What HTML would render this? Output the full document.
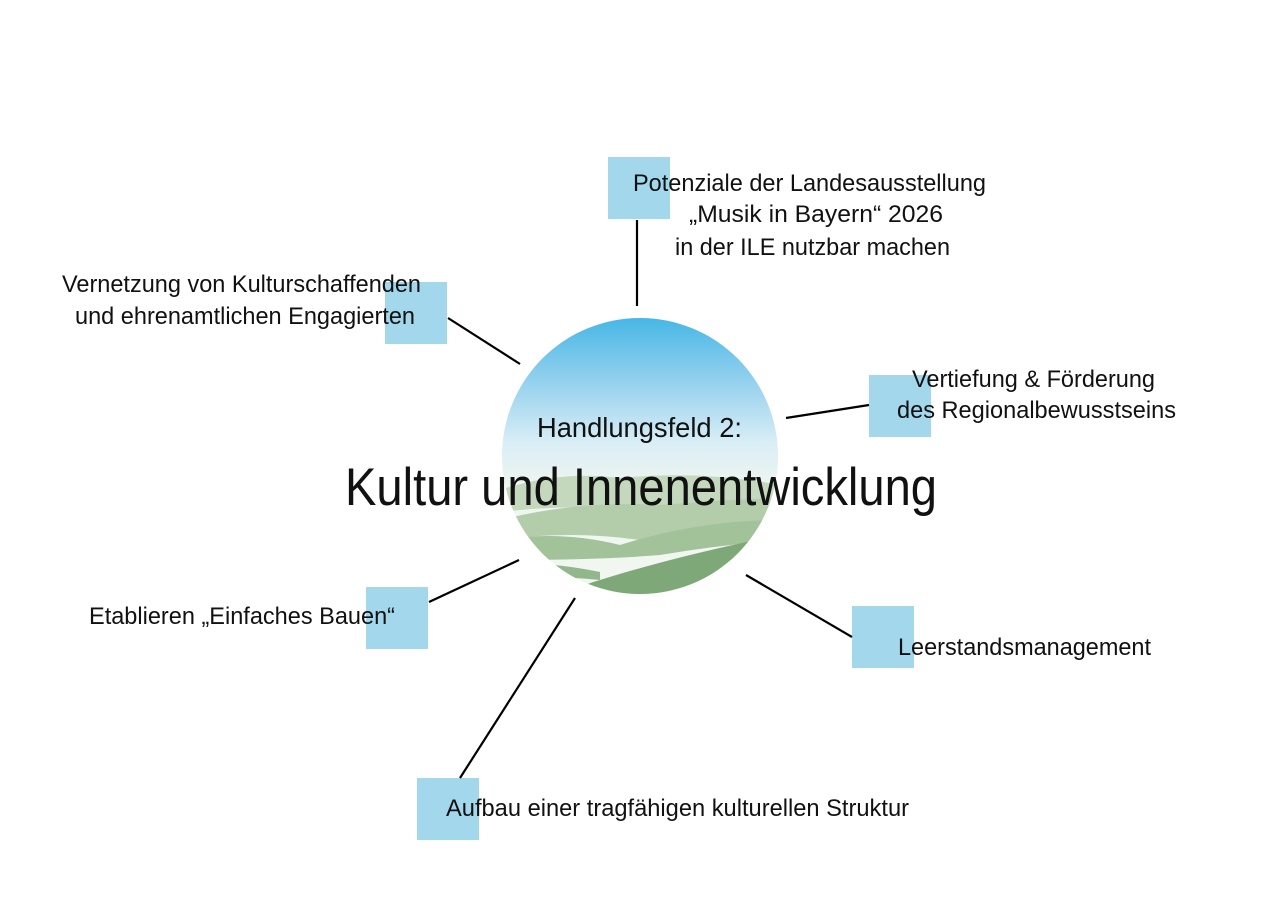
<!DOCTYPE html>
<html><head><meta charset="utf-8"><style>
html,body{margin:0;padding:0;background:#fff;}
svg{display:block;}
text{font-family:"Liberation Sans",sans-serif;fill:#111;}
</style></head><body>
<svg width="1280" height="905" viewBox="0 0 1280 905" xmlns="http://www.w3.org/2000/svg">
<defs>
<linearGradient id="sky" x1="0" y1="0" x2="0" y2="1">
<stop offset="0" stop-color="#45b6e6"/>
<stop offset="0.25" stop-color="#9ad3ee"/>
<stop offset="0.45" stop-color="#d9eef6"/>
<stop offset="0.6" stop-color="#eef5ef"/>
<stop offset="1" stop-color="#f2f6f0"/>
</linearGradient>
<clipPath id="c"><circle cx="640" cy="456" r="138"/></clipPath>
</defs>
<g clip-path="url(#c)">
<rect x="500" y="316" width="280" height="282" fill="url(#sky)"/>
<path d="M500 490 Q560 470 620 478 Q700 470 780 485 L780 510 Q700 500 620 508 Q560 505 500 512 Z" fill="#c3d8bd"/>
<path d="M500 520 Q580 500 660 505 Q720 500 780 498 L780 525 Q700 525 640 540 Q570 530 500 540Z" fill="#b3cdab"/>
<path d="M500 540 Q560 530 620 545 Q700 520 780 520 L780 540 Q720 545 660 555 Q600 560 500 560Z" fill="#a2c29a"/>
<path d="M600 580 Q680 555 780 535 L780 600 L560 600 Q580 585 600 580Z" fill="#7ea878"/>
<path d="M500 565 Q540 560 600 572 L600 580 Q550 575 500 578Z" fill="#93b78c"/>
</g>
<g fill="#a3d8ec">
<rect x="608" y="157" width="62" height="62"/>
<rect x="385" y="282" width="62" height="62"/>
<rect x="869" y="375" width="62" height="62"/>
<rect x="852" y="606" width="62" height="62"/>
<rect x="366" y="587" width="62" height="62"/>
<rect x="417" y="778" width="62" height="62"/>
</g>
<g stroke="#000" stroke-width="2.2">
<line x1="637" y1="220" x2="637" y2="306"/>
<line x1="448" y1="318" x2="520" y2="364"/>
<line x1="786" y1="418" x2="869" y2="405"/>
<line x1="746" y1="575" x2="852" y2="637"/>
<line x1="429" y1="602" x2="519" y2="560"/>
<line x1="575" y1="598" x2="460" y2="778"/>
</g>
<text x="537" y="437" font-size="28" textLength="205" lengthAdjust="spacingAndGlyphs">Handlungsfeld 2:</text>
<text x="345" y="505" font-size="53" textLength="592" lengthAdjust="spacingAndGlyphs">Kultur und Innenentwicklung</text>
<g font-size="24">
<text x="633" y="191" textLength="353" lengthAdjust="spacingAndGlyphs">Potenziale der Landesausstellung</text>
<text x="689" y="222" textLength="254" lengthAdjust="spacingAndGlyphs">„Musik in Bayern“ 2026</text>
<text x="675" y="255" textLength="275" lengthAdjust="spacingAndGlyphs">in der ILE nutzbar machen</text>
<text x="62" y="292" textLength="359" lengthAdjust="spacingAndGlyphs">Vernetzung von Kulturschaffenden</text>
<text x="75" y="324" textLength="340" lengthAdjust="spacingAndGlyphs">und ehrenamtlichen Engagierten</text>
<text x="912" y="387" textLength="243" lengthAdjust="spacingAndGlyphs">Vertiefung &amp; Förderung</text>
<text x="897" y="418" textLength="279" lengthAdjust="spacingAndGlyphs">des Regionalbewusstseins</text>
<text x="898" y="655" textLength="253" lengthAdjust="spacingAndGlyphs">Leerstandsmanagement</text>
<text x="89" y="624" textLength="306" lengthAdjust="spacingAndGlyphs">Etablieren „Einfaches Bauen“</text>
<text x="446" y="816" textLength="463" lengthAdjust="spacingAndGlyphs">Aufbau einer tragfähigen kulturellen Struktur</text>
</g>
</svg>
</body></html>
